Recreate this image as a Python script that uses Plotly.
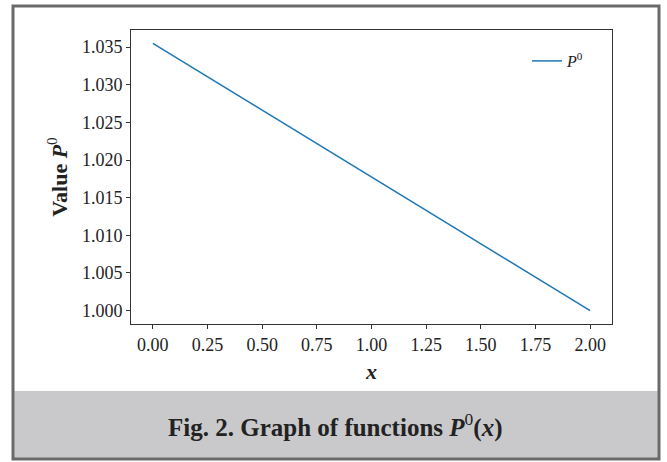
import plotly.graph_objects as go

x_vals = [0.0, 2.0]
p0_vals = [1.0355, 1.0]
x_ticks = [0.0, 0.25, 0.5, 0.75, 1.0, 1.25, 1.5, 1.75, 2.0]
y_ticks = [1.000, 1.005, 1.010, 1.015, 1.020, 1.025, 1.030, 1.035]

W, H = 667, 462
SERIF = "Palatino Linotype, Liberation Serif, DejaVu Serif, serif"

def px(xp):
    return xp / W

def py(yp):
    return 1 - yp / H

fig = go.Figure()
fig.add_trace(go.Scatter(x=x_vals, y=p0_vals, mode="lines",
                         line=dict(color="#1f77b4", width=1.5),
                         name="<i>P</i><sup>0</sup>"))

axis_common = dict(showgrid=False, zeroline=False, showline=True, linecolor="#333333",
                   linewidth=1, mirror=True, ticks="outside", ticklen=4, tickwidth=1,
                   tickcolor="#333333", tickfont=dict(family=SERIF, size=18, color="#222222"))

ymin, ymax = min(p0_vals), max(p0_vals)
pad = 0.05 * (ymax - ymin)
fig.update_layout(
    width=W, height=H, margin=dict(l=0, r=0, t=0, b=0),
    paper_bgcolor="white", plot_bgcolor="white",
    font=dict(family=SERIF, color="#222222"),
    xaxis=dict(domain=[px(131), px(612)], range=[-0.1, 2.1], tickvals=x_ticks,
               ticktext=[f"{v:.2f}" for v in x_ticks],
               title=dict(text="<b><i>x</i></b>", font=dict(family=SERIF, size=22), standoff=10),
               **axis_common),
    yaxis=dict(domain=[py(324), py(30)], range=[ymin - pad, ymax + pad], tickvals=y_ticks,
               ticktext=[f"{v:.3f}" for v in y_ticks],
               title=dict(text="<b>Value <i>P</i></b><sup>0</sup>", font=dict(family=SERIF, size=22), standoff=8),
               **axis_common),
    showlegend=True,
    legend=dict(x=px(527), y=py(44), xanchor="left", yanchor="top", bgcolor="rgba(0,0,0,0)",
                font=dict(family=SERIF, size=16), itemwidth=30),
    shapes=[
        dict(type="rect", xref="paper", yref="paper", x0=px(13), x1=px(659), y0=py(459), y1=py(391),
             fillcolor="#c9c9cb", line=dict(width=0), layer="below"),
        dict(type="rect", xref="paper", yref="paper", x0=px(13), x1=px(659), y0=py(459), y1=py(6),
             fillcolor="rgba(0,0,0,0)", line=dict(color="#6a6a6a", width=3)),
    ],
    annotations=[
        dict(text="<b>Fig. 2. Graph of functions <i>P</i></b><sup>0</sup><b>(<i>x</i>)</b>", xref="paper", yref="paper",
             x=px(335), y=py(425), xanchor="center", yanchor="middle", showarrow=False,
             font=dict(family=SERIF, size=25, color="#222222")),
    ],
)

fig.write_html("out.html")
